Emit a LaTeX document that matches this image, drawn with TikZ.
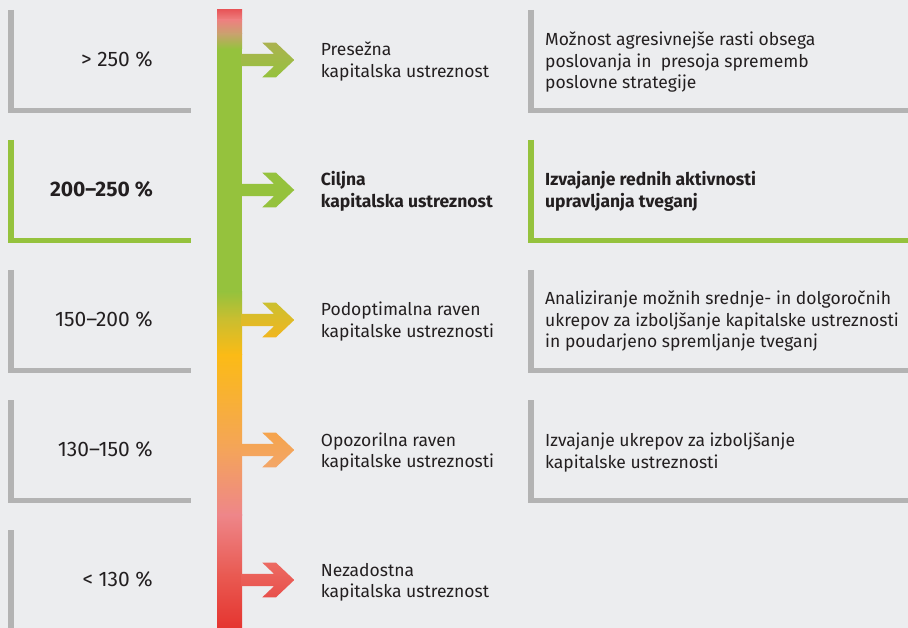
\documentclass[tikz,border=0pt]{standalone}
\usepackage{fontspec}
\setmainfont{Fira Sans}
\definecolor{bg}{HTML}{ECEDEF}
\definecolor{brgray}{HTML}{B3B3B3}
\definecolor{brgreen}{HTML}{95C23D}
\definecolor{txt}{HTML}{231F20}
\definecolor{c0}{HTML}{E8575A}
\definecolor{c1}{HTML}{EE8080}
\definecolor{c2}{HTML}{C9A26E}
\definecolor{c3}{HTML}{95C23D}
\definecolor{c4}{HTML}{95C23D}
\definecolor{c5}{HTML}{C8BE30}
\definecolor{c6}{HTML}{FBBB16}
\definecolor{c7}{HTML}{F4A45A}
\definecolor{c8}{HTML}{EE8689}
\definecolor{c9}{HTML}{E95A52}
\definecolor{c10}{HTML}{E53530}
\newcommand\txtfont{\fontsize{17.5}{21.5}\selectfont}
\newcommand\valfont{\fontsize{21}{25}\selectfont}
\newcommand\twolines[2]{\begin{tabular}[t]{@{}l@{}}#1\\#2\end{tabular}}
\newcommand\threelines[3]{\begin{tabular}[t]{@{}l@{}}#1\\#2\\#3\end{tabular}}
\begin{document}
\begin{tikzpicture}[x=1pt,y=-1pt,
  bracket/.style={line width=5.6pt, line join=miter, draw=brgray},
  greenbracket/.style={bracket, draw=brgreen},
  val/.style={anchor=base east, inner sep=0pt, text=txt, font=\valfont},
  lab/.style={anchor=base west, inner sep=0pt, text=txt, font=\txtfont}
]
\useasboundingbox (0,0) rectangle (908,628);
\fill[bg] (0,0) rectangle (908,628);

% left brackets
\foreach \t in {0,260,390,520}{
  \draw[bracket] (11.2,10+\t) -- (11.2,110.6+\t) -- (190.7,110.6+\t);
}
\draw[greenbracket] (11.2,140) -- (11.2,240.6) -- (190.7,240.6);
% right brackets
\foreach \t in {0,260,390}{
  \draw[bracket] (531.2,10+\t) -- (531.2,110.6+\t) -- (908,110.6+\t);
}
\draw[greenbracket] (531.2,140) -- (531.2,240.6) -- (908,240.6);

% gradient bar
\def\bx{217}\def\bw{242}
\shade[top color=c0, bottom color=c1] (\bx,10) rectangle (\bw,20);
\shade[top color=c1, bottom color=c2] (\bx,19.6) rectangle (\bw,34);
\shade[top color=c2, bottom color=c3] (\bx,33.6) rectangle (\bw,49);
\fill[c3] (\bx,48.6) rectangle (\bw,292);
\shade[top color=c4, bottom color=c5] (\bx,291.6) rectangle (\bw,318);
\shade[top color=c5, bottom color=c6] (\bx,317.6) rectangle (\bw,355);
\shade[top color=c6, bottom color=c7] (\bx,354.6) rectangle (\bw,450);
\shade[top color=c7, bottom color=c8] (\bx,449.6) rectangle (\bw,515);
\shade[top color=c8, bottom color=c9] (\bx,514.6) rectangle (\bw,575);
\shade[top color=c9, bottom color=c10] (\bx,574.6) rectangle (\bw,628);

% arrows
\coordinate (a1) at (241,60);
\coordinate (a2) at (241,190);
\coordinate (a3) at (241,320);
\coordinate (a4) at (241,450);
\coordinate (a5) at (241,580);
\def\arrowpath{++(0,-6.2) -- ++(33,0) -- ++(-11.7,-11.1) -- ++(13.7,0) -- ++(18.3,17.3) -- ++(-18.3,17.3) -- ++(-13.7,0) -- ++(11.7,-11.1) -- ++(-33,0) -- cycle}
\shade[top color={rgb,255:red,171;green,178;blue,80}, bottom color=c3] (a1) \arrowpath;
\fill[c3] (a2) \arrowpath;
\shade[top color={rgb,255:red,204;green,192;blue,48}, bottom color={rgb,255:red,241;green,182;blue,31}] (a3) \arrowpath;
\shade[top color={rgb,255:red,245;green,164;blue,76}, bottom color={rgb,255:red,243;green,166;blue,104}] (a4) \arrowpath;
\shade[top color={rgb,255:red,236;green,106;blue,98}, bottom color={rgb,255:red,232;green,80;blue,75}] (a5) \arrowpath;

% left values
\node[val] (v1) at (153,66.8) {> 250 \%};
\node[val] (v2) at (153,196.8) {\bfseries 200–250 \%};
\node[val] (v3) at (153,326.8) {150–200 \%};
\node[val] (v4) at (153,456.8) {130–150 \%};
\node[val] (v5) at (153,586.8) {< 130 \%};

% middle labels
\node[lab] (m1) at (320.7,56) {\twolines{Presežna}{kapitalska ustreznost}};
\node[lab] (m2) at (320.7,186) {\bfseries\twolines{Ciljna}{kapitalska ustreznost}};
\node[lab] (m3) at (320.7,316) {\twolines{Podoptimalna raven}{kapitalske ustreznosti}};
\node[lab] (m4) at (320.7,446) {\twolines{Opozorilna raven}{kapitalske ustreznosti}};
\node[lab] (m5) at (320.7,576) {\twolines{Nezadostna}{kapitalska ustreznost}};

% right texts
\node[lab] (r1) at (545,45.7) {\threelines{Možnost agresivnejše rasti obsega}{poslovanja in\ \ presoja sprememb}{poslovne strategije}};
\node[lab] (r2) at (545,186) {\bfseries\twolines{Izvajanje rednih aktivnosti}{upravljanja tveganj}};
\node[lab] (r3) at (545,305) {\threelines{Analiziranje možnih srednje- in dolgoročnih}{ukrepov za izboljšanje kapitalske ustreznosti}{in poudarjeno spremljanje tveganj}};
\node[lab] (r4) at (545,446.7) {\twolines{Izvajanje ukrepov za izboljšanje}{kapitalske ustreznosti}};
\end{tikzpicture}
\end{document}
